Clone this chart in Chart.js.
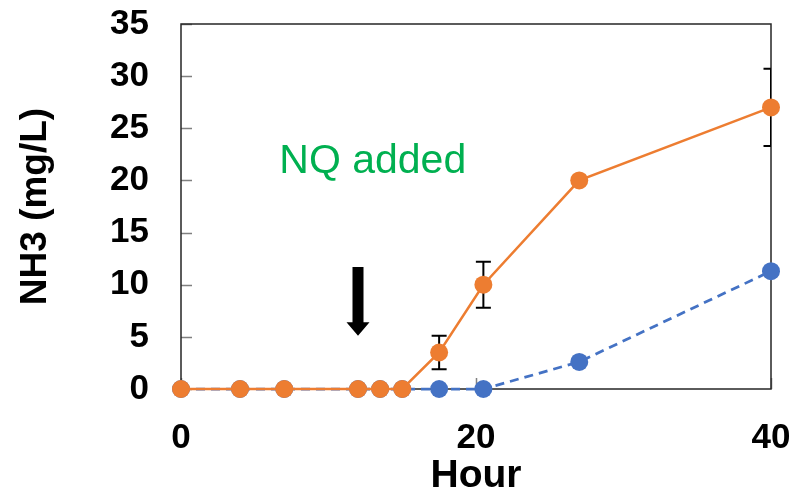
<!DOCTYPE html>
<html>
<head>
<meta charset="utf-8">
<script src="https://cdn.jsdelivr.net/npm/chart.js@4/dist/chart.umd.min.js"></script>
<style>
  html, body { margin: 0; padding: 0; background: #ffffff; }
  #wrap { width: 803px; height: 496px; }
</style>
</head>
<body>
<div id="wrap"><canvas id="c" width="803" height="496"></canvas></div>
<script>
// Sampling times (hours) and NH3 concentrations (mg/L)
const hours      = [0, 4, 7, 12, 13.5, 15, 17.5, 20.5, 27, 40];
const nh3NQ      = [0, 0, 0, 0, 0, 0, 3.5, 10, 20, 27];
const nh3NQErr   = [0, 0, 0, 0, 0, 0, 1.6, 2.2, 0, 3.7];
const nh3Control = [0, 0, 0, 0, 0, 0, 0, 0, 2.6, 11.3];

const xTicks = [0, 20, 40];
const yTicks = [0, 5, 10, 15, 20, 25, 30, 35];

// Time at which NQ was dosed, and the span of the marker arrow (mg/L)
const nqAddedHour = 12;
const arrowFrom = 11.7;
const arrowTo = 5.1;
const noteText = 'NQ added';
const noteAt = { x: 13, y: 20.7 };

const FONT = "'Liberation Sans', Arial, sans-serif";
const ORANGE = '#ED7D31';
const BLUE = '#4472C4';
const GREEN = '#00B050';

function pts(xs, ys) { return xs.map((x, i) => ({ x: x, y: ys[i] })); }

// Frame, inward tick marks and error bars (under the markers)
const framePlugin = {
  id: 'frame',
  beforeDatasetsDraw(chart) {
    const { ctx, chartArea: a, scales: { x, y } } = chart;
    ctx.save();
    // inward tick marks
    ctx.strokeStyle = '#808080';
    ctx.lineWidth = 1.5;
    ctx.beginPath();
    yTicks.forEach(v => {
      const py = Math.round(y.getPixelForValue(v)) + 0.5;
      ctx.moveTo(a.left, py); ctx.lineTo(a.left + 11, py);
    });
    xTicks.forEach(v => {
      const px = Math.round(x.getPixelForValue(v)) + 0.5;
      ctx.moveTo(px, a.bottom); ctx.lineTo(px, a.bottom - 11);
    });
    ctx.stroke();
    // plot frame
    ctx.strokeStyle = '#262626';
    ctx.lineWidth = 1.5;
    ctx.strokeRect(a.left, a.top, a.right - a.left, a.bottom - a.top);
    // error bars, clipped to the plot area
    ctx.beginPath();
    ctx.rect(a.left, a.top, a.right - a.left, a.bottom - a.top);
    ctx.clip();
    ctx.strokeStyle = '#000000';
    ctx.lineWidth = 2;
    ctx.beginPath();
    hours.forEach((h, i) => {
      const e = nh3NQErr[i];
      if (!e) return;
      const px = x.getPixelForValue(h);
      const top = y.getPixelForValue(nh3NQ[i] + e);
      const bot = y.getPixelForValue(nh3NQ[i] - e);
      ctx.moveTo(px, top); ctx.lineTo(px, bot);
      ctx.moveTo(px - 7.5, top); ctx.lineTo(px + 7.5, top);
      ctx.moveTo(px - 7.5, bot); ctx.lineTo(px + 7.5, bot);
    });
    ctx.stroke();
    ctx.restore();
  },
  afterDatasetsDraw(chart) {
    const { ctx, scales: { x, y } } = chart;
    ctx.save();
    // arrow marking the NQ dose
    const ax = x.getPixelForValue(nqAddedHour);
    const y0 = y.getPixelForValue(arrowFrom);
    const y1 = y.getPixelForValue(arrowTo);
    const headLen = 13.5, shaftHalf = 5.5, headHalf = 11.5;
    ctx.fillStyle = '#000000';
    ctx.beginPath();
    ctx.moveTo(ax - shaftHalf, y0);
    ctx.lineTo(ax + shaftHalf, y0);
    ctx.lineTo(ax + shaftHalf, y1 - headLen);
    ctx.lineTo(ax + headHalf, y1 - headLen);
    ctx.lineTo(ax, y1);
    ctx.lineTo(ax - headHalf, y1 - headLen);
    ctx.lineTo(ax - shaftHalf, y1 - headLen);
    ctx.closePath();
    ctx.fill();
    // note
    ctx.fillStyle = GREEN;
    ctx.font = '41px ' + FONT;
    ctx.textAlign = 'center';
    ctx.textBaseline = 'alphabetic';
    ctx.fillText(noteText, x.getPixelForValue(noteAt.x), y.getPixelForValue(noteAt.y));
    ctx.restore();
  }
};

new Chart(document.getElementById('c'), {
  type: 'line',
  data: {
    datasets: [
      {
        label: 'NQ',
        data: pts(hours, nh3NQ),
        borderColor: ORANGE,
        backgroundColor: ORANGE,
        borderWidth: 2.5,
        pointRadius: 9,
        pointBorderWidth: 0,
        pointBackgroundColor: ORANGE,
        tension: 0,
        clip: false
      },
      {
        label: 'Control',
        data: pts(hours, nh3Control),
        borderColor: BLUE,
        backgroundColor: BLUE,
        borderWidth: 2.75,
        borderDash: [9, 6],
        pointRadius: 9,
        pointBorderWidth: 0,
        pointBackgroundColor: BLUE,
        tension: 0,
        clip: false
      }
    ]
  },
  options: {
    responsive: false,
    animation: false,
    devicePixelRatio: 1,
    layout: { padding: { left: 0, right: 32, top: 24, bottom: 0 } },
    plugins: { legend: { display: false }, tooltip: { enabled: false } },
    scales: {
      x: {
        type: 'linear',
        min: 0, max: 40,
        afterFit: s => { s.height = 107; s.paddingLeft = 0; s.paddingRight = 0; },
        afterBuildTicks: s => { s.ticks = xTicks.map(v => ({ value: v })); },
        grid: { display: false },
        border: { display: false },
        ticks: {
          padding: 20,
          color: '#000000',
          font: { family: FONT, size: 35, weight: 'bold' },
          maxRotation: 0
        },
        title: {
          display: true,
          text: 'Hour',
          color: '#000000',
          font: { family: FONT, size: 39, weight: 'bold', lineHeight: 1 },
          padding: { top: 0, bottom: 0 }
        }
      },
      y: {
        type: 'linear',
        min: 0, max: 35,
        afterFit: s => { s.width = 181; s.paddingTop = 0; s.paddingBottom = 0; },
        afterBuildTicks: s => { s.ticks = yTicks.map(v => ({ value: v })); },
        grid: { display: false },
        border: { display: false },
        ticks: {
          padding: 24,
          color: '#000000',
          font: { family: FONT, size: 35, weight: 'bold' }
        },
        title: {
          display: true,
          text: 'NH3 (mg/L)',
          color: '#000000',
          font: { family: FONT, size: 37, weight: 'bold', lineHeight: 1 },
          padding: { top: 17, bottom: 0 }
        }
      }
    }
  },
  plugins: [framePlugin]
});
</script>
</body>
</html>
